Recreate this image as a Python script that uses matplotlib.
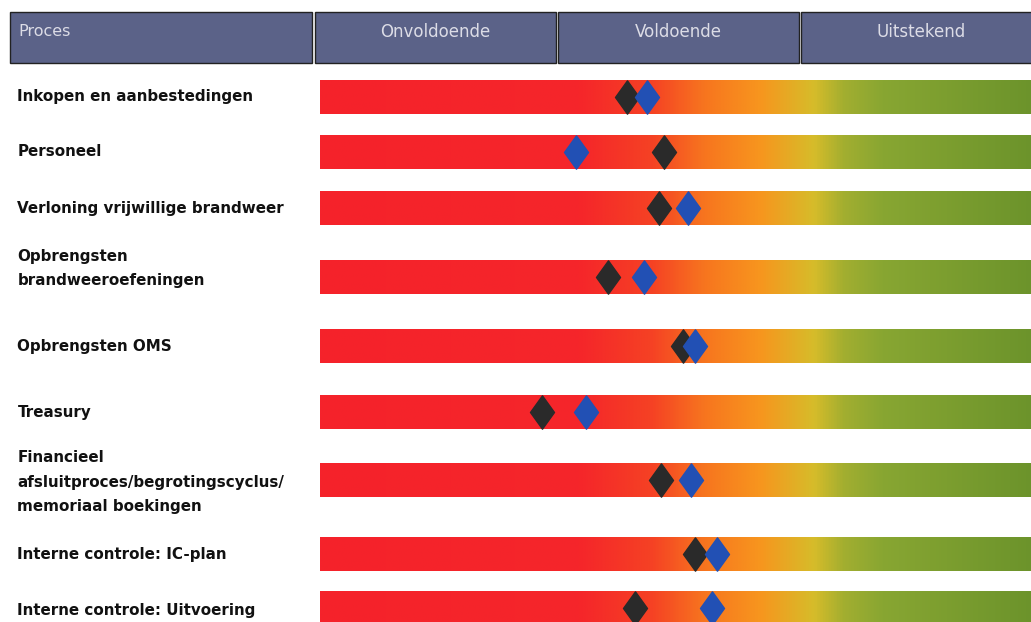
import numpy as np
import matplotlib.pyplot as plt
from matplotlib.colors import LinearSegmentedColormap
from matplotlib.patches import Rectangle
from matplotlib.path import Path

# processen (rijen) en scores; schaal: 0-1 onvoldoende, 1-2 voldoende, 2-3 uitstekend
processen = [
    "Inkopen en aanbestedingen",
    "Personeel",
    "Verloning vrijwillige brandweer",
    "Opbrengsten\nbrandweeroefeningen",
    "Opbrengsten OMS",
    "Treasury",
    "Financieel\nafsluitproces/begrotingscyclus/\nmemoriaal boekingen",
    "Interne controle: IC-plan",
    "Interne controle: Uitvoering",
]
score_zwart = [1.29, 1.44, 1.42, 1.21, 1.52, 0.94, 1.43, 1.57, 1.32]
score_blauw = [1.37, 1.08, 1.54, 1.36, 1.57, 1.12, 1.55, 1.66, 1.64]
kolommen = ["Onvoldoende", "Voldoende", "Uitstekend"]

# layout (pixel rows, figure is 622 high)
rij_y = [97, 152, 208, 277, 346, 412, 480, 554, 608]
label_dy = [0, 0, 0, -8, 0, 0, 2, 0, 2]
bar_h = 34
xmin, xmax = -1.292, 2.951

# ruit iets breder dan de standaard 'd'
ruit = Path([(0, 1), (0.72, 0), (0, -1), (-0.72, 0), (0, 1)],
            [Path.MOVETO, Path.LINETO, Path.LINETO, Path.LINETO, Path.CLOSEPOLY])

fig = plt.figure(figsize=(10.31, 6.22), dpi=100)
ax = fig.add_axes([0, 0, 1, 1])
ax.set_xlim(xmin, xmax)
ax.set_ylim(622, 0)
ax.axis("off")

# kopregel
kop_kleur = "#5b6288"
ax.add_patch(Rectangle((-1.25, 12), 1.24, 51, facecolor=kop_kleur, edgecolor="#222222", lw=1))
ax.text(-1.215, 31, "Proces", color="#dcdce6", fontsize=11.5, va="center", ha="left")
for i, k in enumerate(kolommen):
    ax.add_patch(Rectangle((i + 0.005, 12), 0.99, 51, facecolor=kop_kleur,
                           edgecolor="#222222", lw=1))
    ax.text(i + 0.5, 32, k, color="#dcdce6", fontsize=12, va="center", ha="center")

# kleurverloop van rood naar groen
stops = [(0.0, "#f5222b"), (0.36, "#f5262a"), (0.46, "#f54224"),
         (0.53, "#f7741f"), (0.61, "#f7961e"), (0.684, "#d6bc2a"),
         (0.726, "#a2ae30"), (0.78, "#88a632"), (1.0, "#6a922b")]
cmap = LinearSegmentedColormap.from_list("rg", stops)
grad = np.linspace(0, 1, 512).reshape(1, -1)

for y, lab, dy, z, b in zip(rij_y, processen, label_dy, score_zwart, score_blauw):
    ax.imshow(grad, cmap=cmap, aspect="auto", interpolation="bilinear",
              extent=(0.025, xmax + 0.05, y + bar_h / 2, y - bar_h / 2), zorder=1)
    ax.text(-1.22, y + dy, lab, fontsize=10.9, fontweight="bold", color="#111111",
            va="center", ha="left", linespacing=1.75)
    ax.plot([z], [y], marker=ruit, ms=24, color="#2a2a2a", mec="#2a2a2a", zorder=3)
    ax.plot([b], [y], marker=ruit, ms=24, color="#2250b4", mec="#2250b4", zorder=4)

ax.set_xlim(xmin, xmax)
ax.set_ylim(622, 0)
fig.savefig("out.png", dpi=100)
